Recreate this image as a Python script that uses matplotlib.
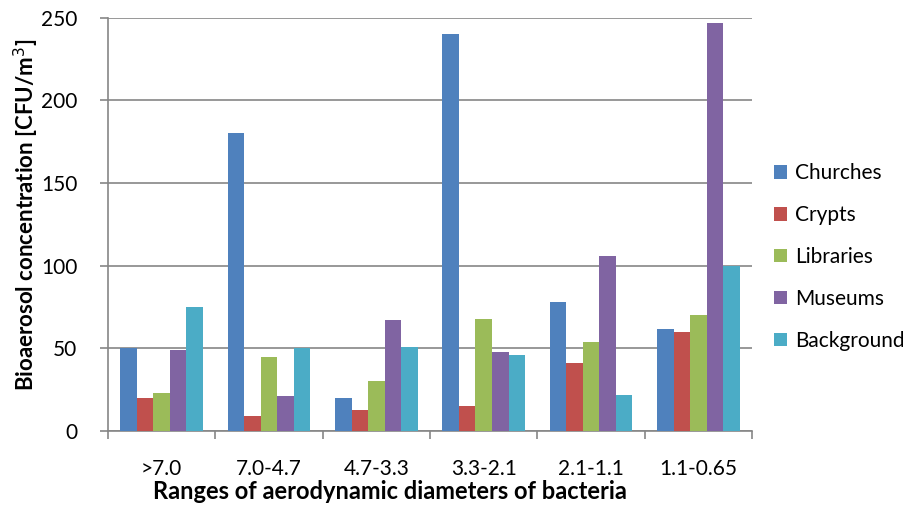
import numpy as np
import matplotlib.pyplot as plt

plt.rcParams['font.family'] = ['Lato', 'DejaVu Sans']

categories = ['>7.0', '7.0-4.7', '4.7-3.3', '3.3-2.1', '2.1-1.1', '1.1-0.65']
churches = [50, 180, 20, 240, 78, 62]
crypts = [20, 9, 13, 15, 41, 60]
libraries = [23, 45, 30, 68, 54, 70]
museums = [49, 21, 67, 48, 106, 247]
background = [75, 50, 51, 46, 22, 100]

series = [('Churches', churches, '#4F81BD'),
          ('Crypts', crypts, '#C0504D'),
          ('Libraries', libraries, '#9BBB59'),
          ('Museums', museums, '#8064A2'),
          ('Background', background, '#4BACC6')]

fig = plt.figure(figsize=(9.04, 5.05), dpi=100)
ax = fig.add_axes([0.1195, 0.1465, 0.7125, 0.8185])

x = np.arange(len(categories))
w = 1 / 6.5
for i, (name, vals, col) in enumerate(series):
    ax.bar(x + (i - 2) * w, vals, width=w, color=col, label=name, zorder=3)

ax.set_xlim(-0.5, len(categories) - 0.5)
ax.set_ylim(0, 250)
ax.set_yticks(np.arange(0, 251, 50))
ax.yaxis.grid(True, color='#868686', lw=1.2, zorder=0)
ax.set_xticks(x)
ax.set_xticklabels(categories, fontsize=15)
ax.set_xticks(np.arange(-0.5, len(categories)), minor=True)
ax.tick_params(axis='x', which='major', length=0, pad=20)
ax.tick_params(axis='x', which='minor', length=6, color='#868686', width=1.2)
ax.tick_params(axis='y', length=6, color='#868686', width=1.2, labelsize=15, pad=16)

for s in ['top', 'right']:
    ax.spines[s].set_visible(False)
for s in ['left', 'bottom']:
    ax.spines[s].set_color('#868686')
    ax.spines[s].set_linewidth(1.2)

ax.set_xlabel('Ranges of aerodynamic diameters of bacteria', fontsize=17, fontweight='bold')
ax.xaxis.set_label_coords(0.438, -0.118)
ax.set_ylabel('Bioaerosol concentration [CFU/m$^3$]', fontsize=16, fontweight='bold')
ax.yaxis.set_label_coords(-0.104, 0.522)

ax.legend(loc='center left', bbox_to_anchor=(1.034, 0.421), frameon=False, fontsize=15,
          borderpad=0, borderaxespad=0,
          handlelength=0.62, handleheight=0.62, handletextpad=0.4, labelspacing=1.05)

fig.savefig('out.png', dpi=100)
